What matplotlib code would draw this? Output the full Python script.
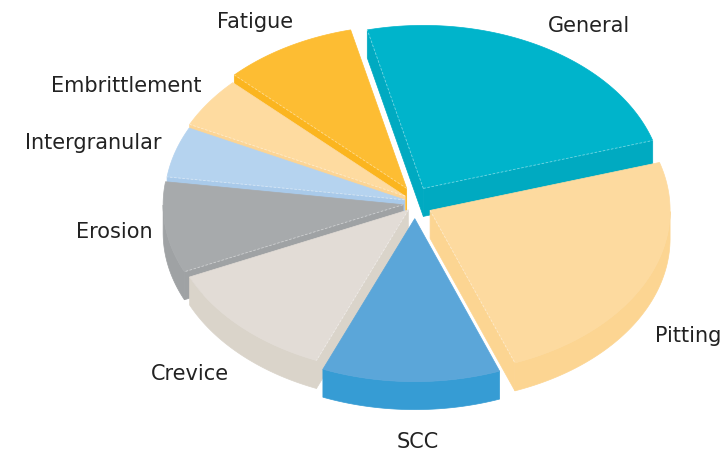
import numpy as np
import matplotlib.pyplot as plt
from matplotlib.patches import Polygon

# corrosion types, clockwise from the top
labels = ['General', 'Pitting', 'SCC', 'Crevice', 'Erosion',
          'Intergranular', 'Embrittlement', 'Fatigue']
values = [24, 24, 12, 12, 9, 5, 5, 9]
top_colors = ['#00B4CB', '#FDDA9F', '#5BA6D9', '#E2DCD6', '#A7AAAC',
              '#B5D3EF', '#FEDBA0', '#FDBD33']
side_colors = ['#00AAC1', '#FCD592', '#369CD4', '#DAD4CA', '#9FA2A4',
               '#A9CAEA', '#FCD595', '#FBB51F']
explode = [0.07, 0.07, 0.065, 0.04, 0.05, 0.045, 0.05, 0.07]
# small hand nudges for the label text (pixels)
label_nudge = [(1, -3), (0, 21), (7, 11), (-5, 1), (-3, -4), (-4, 3), (1, -2), (10, -7)]

# layout of the fake 3D pie (pixel units)
cx, cy = 415, 204
rx, ry = 240, 163
depth = 28
start = -13.5

plt.rcParams['font.family'] = ['DejaVu Sans']

fig = plt.figure(figsize=(7.22, 4.52), dpi=100)
ax = fig.add_axes([0, 0, 1, 1])
ax.set_xlim(0, 722)
ax.set_ylim(452, 0)
ax.axis('off')

fracs = np.array(values, dtype=float) / sum(values)
edges = start + 360 * np.concatenate([[0], np.cumsum(fracs)])


def rim(a, ox, oy, r=1.0):
    t = np.radians(a)
    return ox + r * rx * np.sin(t), oy - r * ry * np.cos(t)


def seam(xs, ys, z):
    # faint light seam where the top face meets a wall
    ax.plot(xs, ys, color='white', alpha=0.45, lw=0.6, ls=(0, (3, 2)), zorder=z)


slices = []
for i in range(len(values)):
    a1, a2 = edges[i], edges[i + 1]
    mid = np.radians((a1 + a2) / 2)
    ox = cx + explode[i] * rx * np.sin(mid)
    oy = cy - explode[i] * rx * np.cos(mid)
    th = np.linspace(a1, a2, 80)
    px, py = rim(th, ox, oy)
    slices.append((i, a1, a2, ox, oy, px, py, th))

# paint back to front
slices.sort(key=lambda s: np.mean(np.append(s[6], s[4])))

z = 1
for i, a1, a2, ox, oy, px, py, th in slices:
    sc = side_colors[i]
    # outer wall, only the front half faces the viewer
    front = np.cos(np.radians(th)) < 0
    if front.any():
        fx, fy = px[front], py[front]
        wall = np.column_stack([np.r_[fx, fx[::-1]], np.r_[fy, fy[::-1] + depth]])
        ax.add_patch(Polygon(wall, closed=True, fc=sc, ec=sc, lw=0.5, zorder=z))
    # radial walls
    if np.sin(np.radians(a1)) < 0:
        ex, ey = px[0], py[0]
        ax.add_patch(Polygon([(ox, oy), (ex, ey), (ex, ey + depth), (ox, oy + depth)],
                             closed=True, fc=sc, ec=sc, lw=0.5, zorder=z))
        seam([ox, ex], [oy, ey], z + 0.7)
    if np.sin(np.radians(a2)) > 0:
        ex, ey = px[-1], py[-1]
        ax.add_patch(Polygon([(ox, oy), (ex, ey), (ex, ey + depth), (ox, oy + depth)],
                             closed=True, fc=sc, ec=sc, lw=0.5, zorder=z))
        seam([ox, ex], [oy, ey], z + 0.7)
    # top face
    top = np.column_stack([np.r_[ox, px], np.r_[oy, py]])
    ax.add_patch(Polygon(top, closed=True, fc=top_colors[i], ec=top_colors[i],
                         lw=0.5, zorder=z + 0.5))
    z += 1

# labels just outside the rim
for i, a1, a2, ox, oy, px, py, th in slices:
    mid = (a1 + a2) / 2
    s, c = np.sin(np.radians(mid)), np.cos(np.radians(mid))
    lx, ly = rim(mid, ox, oy)
    if c < 0:
        ly += depth * min(1, -c * 1.4)
    lx += 10 * s + label_nudge[i][0]
    ly -= 10 * c - label_nudge[i][1]
    ha = 'left' if s > 0.25 else ('right' if s < -0.25 else 'center')
    va = 'bottom' if c > 0.25 else ('top' if c < -0.25 else 'center')
    ax.text(lx, ly, labels[i], ha=ha, va=va, fontsize=15, color='#222222', zorder=50)

fig.savefig('out.png', dpi=100)
